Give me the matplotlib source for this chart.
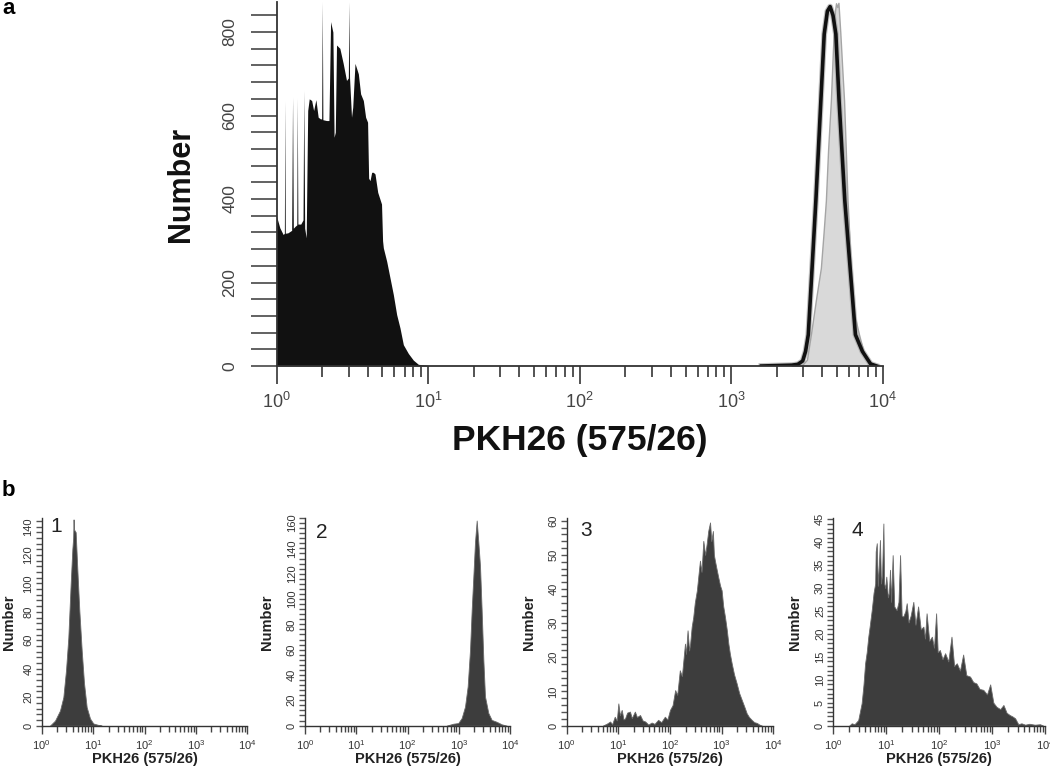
import numpy as np
import matplotlib
matplotlib.use("Agg")
import matplotlib.pyplot as plt
from matplotlib.ticker import FixedLocator, FuncFormatter, MultipleLocator, NullFormatter

plt.rcParams['font.family'] = ['Liberation Sans', 'DejaVu Sans']
plt.rcParams['mathtext.fontset'] = 'custom'
plt.rcParams['mathtext.rm'] = 'Liberation Sans'
plt.rcParams['mathtext.default'] = 'regular'

# ---------------- data (log10 of PKH26 intensity, cell number) ----------------
# panel a: unstained / control (black filled)
a_black_logx = [0.000, 0.022, 0.044, 0.052, 0.055, 0.058, 0.075, 0.100, 0.106, 0.111, 0.124,
                0.134, 0.137, 0.141, 0.160, 0.175, 0.180, 0.186, 0.196, 0.206, 0.216, 0.232,
                0.245, 0.260, 0.275, 0.290, 0.298, 0.302, 0.306, 0.330, 0.346, 0.357, 0.372,
                0.380, 0.388, 0.396, 0.418, 0.440, 0.462, 0.474, 0.478, 0.482, 0.495, 0.503,
                0.518, 0.540, 0.555, 0.573, 0.588, 0.601, 0.608, 0.617, 0.628, 0.639, 0.650,
                0.668, 0.693, 0.700, 0.705, 0.727, 0.749, 0.771, 0.793, 0.815, 0.837, 0.870,
                0.903, 0.936, 0.990, 1.010]
a_black_count = [359, 331, 315, 318, 636, 318, 319, 325, 644, 330, 335,
                 338, 642, 340, 340, 350, 660, 330, 307, 612, 640, 636,
                 612, 638, 596, 592, 592, 873, 590, 588, 588, 825, 800,
                 548, 560, 769, 761, 725, 684, 690, 872, 690, 596, 620,
                 725, 700, 652, 636, 596, 584, 450, 444, 464, 464, 460,
                 416, 388, 300, 283, 251, 211, 171, 123, 91, 51, 30,
                 14, 4, 2, 0]
# panel a: labelled cells (grey filled)
a_grey_logx = [3.40, 3.47, 3.50, 3.526, 3.560, 3.592, 3.610, 3.625, 3.640, 3.658, 3.672,
               3.685, 3.692, 3.700, 3.708, 3.720, 3.735, 3.745, 3.768, 3.790, 3.815, 3.844,
               3.880, 3.932, 3.960]
a_grey_count = [0, 3, 15, 75, 160, 235, 320, 396, 520, 636, 760,
                850, 869, 860, 870, 800, 700, 636, 396, 235, 120, 75,
                25, 3, 0]
# panel a: labelled cells (black outline)
a_line_logx = [3.20, 3.30, 3.40, 3.44, 3.472, 3.491, 3.509, 3.534, 3.559, 3.592, 3.614,
               3.635, 3.653, 3.672, 3.691, 3.712, 3.750, 3.785, 3.820, 3.866, 3.920, 3.960]
a_line_count = [0, 1, 2, 4, 12, 35, 75, 235, 396, 636, 795,
                850, 861, 840, 795, 636, 396, 235, 75, 35, 5, 0]

# panel b1
b1_logx = [0.161, 0.259, 0.356, 0.421, 0.473, 0.518, 0.564, 0.596, 0.612, 0.620, 0.628,
           0.661, 0.693, 0.732, 0.778, 0.823, 0.875, 0.940, 1.004, 1.100, 1.167]
b1_count = [0, 3.5, 10.6, 20, 39, 62, 100, 124, 132, 145, 138,
            136, 110, 81, 53, 30, 13, 5, 1.5, 0.5, 0]
# panel b2
b2_logx = [2.765, 2.894, 2.990, 3.057, 3.122, 3.174, 3.220, 3.252, 3.285, 3.317, 3.350,
           3.382, 3.415, 3.447, 3.480, 3.512, 3.577, 3.642, 3.740, 3.838, 3.935]
b2_count = [0, 1.5, 2, 6, 15, 31, 60, 91, 118, 145, 162,
            145, 126, 91, 52, 23, 10, 4.5, 3, 1, 0]
# panel b3
b3_logx = [0.70, 0.78, 0.84, 0.88, 0.93, 0.97, 1.00, 1.03, 1.065, 1.10, 1.13, 1.17, 1.225,
           1.26, 1.32, 1.36, 1.42, 1.47, 1.52, 1.58, 1.645, 1.70, 1.77, 1.83, 1.90, 1.95,
           2.00, 2.05, 2.10, 2.14, 2.19, 2.23, 2.29, 2.31, 2.34, 2.37, 2.39, 2.42, 2.45,
           2.48, 2.52, 2.55, 2.58, 2.61, 2.645, 2.68, 2.71, 2.74, 2.775, 2.80, 2.83, 2.85,
           2.87, 2.90, 2.935, 2.97, 3.00, 3.03, 3.065, 3.10, 3.13, 3.16, 3.195, 3.24, 3.29,
           3.34, 3.39, 3.44, 3.485, 3.53, 3.58, 3.63, 3.68, 3.73, 3.78]
b3_count = [0, 0.6, 1.2, 0.4, 2.6, 1.5, 6.5, 3.0, 4.6, 1.8, 2.1, 3.8, 4.1,
            2.2, 4.1, 2.5, 3.1, 1.5, 1.2, 0.3, 0.9, 0.5, 1.7, 1.0, 2.6, 1.8,
            4.6, 6.0, 10.4, 9.0, 16.2, 14.5, 24, 21, 27.9, 22, 24, 29, 31.8,
            36, 39.6, 44, 48.3, 45, 54.1, 50, 53.2, 57, 59.5, 54, 57, 50,
            48.3, 46, 43.4, 41, 39.6, 35, 31.8, 28, 24, 21, 18.2, 15, 12.4,
            9.5, 7.5, 5.5, 3.6, 2.5, 1.7, 1.0, 0.8, 0.3, 0]
# panel b4
b4_logx = [0.30, 0.347, 0.40, 0.47, 0.535, 0.57, 0.60, 0.63, 0.66, 0.69, 0.725, 0.76, 0.79,
           0.80, 0.82, 0.84, 0.86, 0.88, 0.90, 0.92, 0.945, 0.96, 0.98, 1.00, 1.03, 1.05,
           1.07, 1.09, 1.12, 1.15, 1.195, 1.23, 1.26, 1.29, 1.32, 1.36, 1.385, 1.42, 1.46,
           1.51, 1.55, 1.60, 1.65, 1.70, 1.73, 1.76, 1.81, 1.86, 1.90, 1.94, 1.97, 2.01,
           2.06, 2.11, 2.17, 2.23, 2.28, 2.33, 2.39, 2.45, 2.51, 2.58, 2.64, 2.70, 2.76,
           2.83, 2.90, 2.96, 3.02, 3.08, 3.15, 3.21, 3.27, 3.33, 3.38, 3.43, 3.49, 3.55,
           3.62, 3.70, 3.80, 3.90, 3.96]
b4_count = [0, 0.5, 0.3, 1.2, 4.9, 9, 13.6, 16, 19.4, 22, 25.2, 29, 31,
            38, 39.8, 30.5, 35, 40.5, 31, 33, 44.1, 31, 30, 32.5, 28, 29,
            34, 27, 37.2, 26, 25.2, 27, 37.2, 24, 23.8, 25, 26.7, 22.5, 24,
            27, 22, 26, 21, 21.6, 19, 24.5, 18.5, 19.4, 17, 24.5, 16, 16.5,
            14.5, 15.8, 14, 19.4, 13, 13.6, 12, 15.5, 11, 10.7, 9.5, 9.2, 8,
            7.8, 6.8, 9, 5, 4.1, 3.6, 4.5, 2.8, 2.3, 2.0, 1.6, 0.3, 0.5,
            0.2, 0.4, 0.2, 0.3, 0]

panel_labels = ["1", "2", "3", "4"]
decade_ticks = [1, 10, 100, 1000, 10000]
xlabel_text = "PKH26 (575/26)"
ylabel_text = "Number"

# ---------------- figure ----------------
W, H = 1050, 775
fig = plt.figure(figsize=(W / 100, H / 100), dpi=100)


def rect(left, right, top, bottom):
    return [left / W, 1 - bottom / H, (right - left) / W, (bottom - top) / H]


def dec_fmt(v, pos):
    return r'$10^{%d}$' % int(round(np.log10(v)))


def style_axes(ax, ymax, ymaj, ymin, xmaj_len, xmin_len, ylen, lw, lab_size, lab_col):
    ax.set_xscale('log')
    ax.set_xlim(1, 1e4)
    ax.set_ylim(0, ymax)
    for s in ['top', 'right']:
        ax.spines[s].set_visible(False)
    for s in ['left', 'bottom']:
        ax.spines[s].set_color('#333333')
        ax.spines[s].set_linewidth(lw)
    ax.xaxis.set_major_locator(FixedLocator(decade_ticks))
    ax.xaxis.set_major_formatter(FuncFormatter(dec_fmt))
    minors = [m * 10 ** d for d in range(4) for m in range(2, 10)]
    ax.xaxis.set_minor_locator(FixedLocator(minors))
    ax.xaxis.set_minor_formatter(NullFormatter())
    ax.yaxis.set_major_locator(MultipleLocator(ymaj))
    ax.yaxis.set_minor_locator(MultipleLocator(ymin))
    ax.tick_params(axis='x', which='major', length=xmaj_len, width=lw, color='#444444',
                   labelsize=lab_size, labelcolor=lab_col)
    ax.tick_params(axis='x', which='minor', length=xmin_len, width=lw, color='#444444')
    ax.tick_params(axis='y', which='both', length=ylen, width=lw, color='#555555',
                   labelsize=lab_size, labelcolor=lab_col)
    for lab in ax.get_yticklabels():
        lab.set_rotation(90)
        lab.set_va('center')


# ---- panel a ----
axa = fig.add_axes(rect(276.5, 882.7, 2, 366))
axa.fill_between(10 ** np.array(a_black_logx), a_black_count, 0, color='#111111', lw=0)
axa.fill_between(10 ** np.array(a_grey_logx), a_grey_count, 0, facecolor='#d9d9d9',
                 edgecolor='#a5a5a5', lw=1.0)
axa.plot(10 ** np.array(a_line_logx), a_line_count, color='#999999', lw=4.2, alpha=0.6,
         solid_joinstyle='round')
axa.plot(10 ** np.array(a_line_logx), a_line_count, color='#111111', lw=2.6,
         solid_joinstyle='round')
style_axes(axa, 872, 200, 40, 13, 8, 19, 1.3, 13, '#444444')
axa.tick_params(axis='y', pad=9, labelsize=12.5)
axa.tick_params(axis='x', pad=6)
axa.set_xlabel(xlabel_text, fontsize=25.5, fontweight='bold', color='#111111')
axa.xaxis.set_label_coords(0.5, -0.158)
axa.set_ylabel(ylabel_text, fontsize=22, fontweight='bold', color='#111111')
axa.yaxis.set_label_coords(-0.132, 0.5)

# ---- panels b ----
b_rects = [(41.7, 247.3), (305.0, 510.0), (566.7, 773.3), (833.3, 1045.3)]
b_ymax = [146, 164, 60.8, 45.3]
b_ymaj = [20, 20, 10, 5]
b_ymin = [4, 4, 2, 1]
b_x = [b1_logx, b2_logx, b3_logx, b4_logx]
b_y = [b1_count, b2_count, b3_count, b4_count]
num_off = [(9, 9), (11, 14), (14, 13), (18, 12)]
ylab_off = [-26, -31, -31, -31]
for i in range(4):
    l, r = b_rects[i]
    ax = fig.add_axes(rect(l, r, 518, 725.6))
    ax.fill_between(10 ** np.array(b_x[i]), b_y[i], 0, facecolor='#3d3d3d',
                    edgecolor='#6a6a6a', lw=0.6)
    style_axes(ax, b_ymax[i], b_ymaj[i], b_ymin[i], 6, 4, 4, 1.0, 8, '#333333')
    ax.tick_params(axis='y', pad=2)
    ax.tick_params(axis='x', pad=3)
    ax.set_xlabel(xlabel_text, fontsize=10.5, fontweight='bold', color='#222222')
    ax.xaxis.set_label_coords(0.5, -0.125)
    ax.set_ylabel(ylabel_text, fontsize=10.5, fontweight='bold', color='#222222')
    ax.yaxis.set_label_coords(ylab_off[i] / (r - l), 0.5)
    dx, dy = num_off[i]
    ax.annotate(panel_labels[i], xy=(0, 1), xycoords='axes fraction',
                xytext=(dx, -dy), textcoords='offset pixels', fontsize=15,
                color='#222222', ha='left', va='center')

fig.text(2 / W, 1 - 9 / H, 'a', fontsize=16, fontweight='bold', va='center', ha='left')
fig.text(2 / W, 1 - 491 / H, 'b', fontsize=16, fontweight='bold', va='center', ha='left')

fig.savefig('out.png', dpi=100)
